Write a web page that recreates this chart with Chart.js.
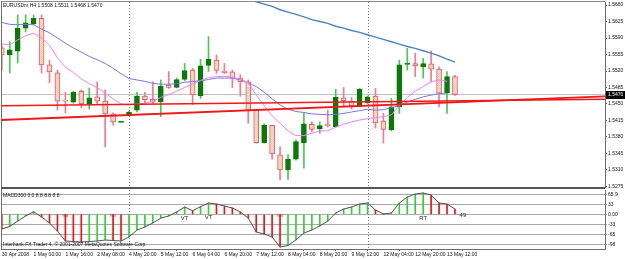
<!DOCTYPE html>
<html>
<head>
<meta charset="utf-8">
<script src="https://cdn.jsdelivr.net/npm/chart.js@4.4.1/dist/chart.umd.min.js"></script>
<style>
  body { margin: 0; background: #fff; }
  #wrap { position: relative; width: 625px; height: 259px; overflow: hidden; background: #fff; }
  #wrap canvas { position: absolute; left: 0; }
  .rule { position: absolute; background: #6e6e6e; }
  .txt { position: absolute; font: 5px "Liberation Sans", Arial, sans-serif; line-height: 6px; color: #111; white-space: nowrap; }
</style>
</head>
<body>
<div id="wrap">
  <canvas id="priceChart" width="625" height="189" style="top:0"></canvas>
  <canvas id="macdChart" width="625" height="70" style="top:189px"></canvas>
  <div class="rule" style="left:1px;top:1px;width:604px;height:1px;background:#8a8a8a"></div>
  <div class="rule" style="left:1px;top:1px;width:1px;height:249px"></div>
  <div class="rule" style="left:1px;top:187px;width:604px;height:2px;background:#555"></div>
  <div class="txt" style="left:3px;top:2px">EURUSDm,H4 1.5508 1.5511 1.5468 1.5470</div>
  <div class="txt" style="left:3px;top:192px">MACD300 0.0 8.8 8.8 8.8</div>
  <div class="txt" style="left:3px;top:241px">Interbank FX Trader 4, © 2001-2007 MetaQuotes Software Corp.</div>
</div>
<script>
(function () {
  'use strict';

  // H4 bars, 30 Apr 04:00 (partly off-chart) to 13 May 12:00
  var opens = [1.5569, 1.5554, 1.5562, 1.5611, 1.5620, 1.5632, 1.5533, 1.5516, 1.5457, 1.5454,
    1.5477, 1.5450, 1.5465, 1.5456, 1.5429, 1.5411, 1.5427, 1.5437, 1.5467, 1.5460,
    1.5455, 1.5490, 1.5485, 1.5502, 1.5522, 1.5467, 1.5532, 1.5543, 1.5520, 1.5518,
    1.5505, 1.5497, 1.5437, 1.5368, 1.5405, 1.5342, 1.5310, 1.5333, 1.5368, 1.5407,
    1.5397, 1.5406, 1.5402, 1.5463, 1.5456, 1.5446, 1.5453, 1.5467, 1.5414, 1.5395,
    1.5444, 1.5534, 1.5536, 1.5529, 1.5535, 1.5524, 1.5474, 1.5508];
  var highs = [1.5575, 1.5582, 1.5639, 1.5639, 1.5639, 1.5639, 1.5543, 1.5522, 1.5475, 1.5477,
    1.5480, 1.5484, 1.5497, 1.5480, 1.5431, 1.5412, 1.5435, 1.5475, 1.5475, 1.5497,
    1.5501, 1.5519, 1.5505, 1.5536, 1.5526, 1.5545, 1.5593, 1.5554, 1.5536, 1.5522,
    1.5512, 1.5501, 1.5437, 1.5408, 1.5405, 1.5359, 1.5342, 1.5374, 1.5432, 1.5412,
    1.5412, 1.5437, 1.5481, 1.5485, 1.5464, 1.5483, 1.5467, 1.5483, 1.5430, 1.5462,
    1.5543, 1.5568, 1.5558, 1.5547, 1.5563, 1.5529, 1.5519, 1.5511];
  var lows = [1.5522, 1.5516, 1.5537, 1.5603, 1.5618, 1.5516, 1.5495, 1.5437, 1.5431, 1.5452,
    1.5442, 1.5439, 1.5450, 1.5359, 1.5405, 1.5411, 1.5425, 1.5433, 1.5452, 1.5451,
    1.5423, 1.5483, 1.5484, 1.5499, 1.5449, 1.5462, 1.5519, 1.5515, 1.5515, 1.5485,
    1.5466, 1.5409, 1.5367, 1.5367, 1.5333, 1.5289, 1.5290, 1.5331, 1.5314, 1.5391,
    1.5388, 1.5401, 1.5401, 1.5444, 1.5439, 1.5444, 1.5450, 1.5399, 1.5367, 1.5393,
    1.5430, 1.5522, 1.5508, 1.5505, 1.5497, 1.5444, 1.5430, 1.5468];
  var closes = [1.5554, 1.5565, 1.5611, 1.5622, 1.5632, 1.5533, 1.5518, 1.5456, 1.5456, 1.5475,
    1.5450, 1.5463, 1.5456, 1.5429, 1.5412, 1.5412, 1.5433, 1.5467, 1.5459, 1.5454,
    1.5488, 1.5485, 1.5502, 1.5521, 1.5469, 1.5531, 1.5545, 1.5521, 1.5516, 1.5505,
    1.5497, 1.5437, 1.5368, 1.5405, 1.5344, 1.5310, 1.5333, 1.5370, 1.5408, 1.5396,
    1.5404, 1.5404, 1.5464, 1.5457, 1.5446, 1.5481, 1.5465, 1.5410, 1.5396, 1.5444,
    1.5533, 1.5535, 1.5531, 1.5536, 1.5524, 1.5473, 1.5508, 1.5470];

  // moving averages
  var maFast = [1.5578, 1.5575, 1.5586, 1.5595, 1.5600, 1.5590, 1.5575, 1.5548, 1.5528, 1.5517,
    1.5503, 1.5493, 1.5485, 1.5473, 1.5461, 1.5450, 1.5448, 1.5450, 1.5451, 1.5456,
    1.5464, 1.5470, 1.5477, 1.5485, 1.5492, 1.5500, 1.5506, 1.5508, 1.5509, 1.5507,
    1.5503, 1.5495, 1.5469, 1.5446, 1.5425, 1.5409, 1.5393, 1.5383, 1.5383, 1.5388,
    1.5393, 1.5393, 1.5401, 1.5407, 1.5412, 1.5416, 1.5419, 1.5421, 1.5423, 1.5427,
    1.5446, 1.5464, 1.5477, 1.5487, 1.5497, 1.5501, 1.5498];
  var maMid = [1.5623, 1.5619, 1.5618, 1.5619, 1.5618, 1.5609, 1.5601, 1.5590, 1.5579, 1.5569,
    1.5560, 1.5551, 1.5544, 1.5536, 1.5526, 1.5514, 1.5504, 1.5501, 1.5498, 1.5494,
    1.5492, 1.5492, 1.5493, 1.5496, 1.5498, 1.5499, 1.5502, 1.5505, 1.5505, 1.5505,
    1.5501, 1.5495, 1.5487, 1.5475, 1.5461, 1.5448, 1.5439, 1.5434, 1.5432, 1.5429,
    1.5428, 1.5427, 1.5428, 1.5430, 1.5433, 1.5436, 1.5439, 1.5437, 1.5438, 1.5442,
    1.5447, 1.5454, 1.5460, 1.5465, 1.5469, 1.5472, 1.5473];
  var maSlowStart = 31;
  var maSlow = [1.5673, 1.5667, 1.5662, 1.5657, 1.5650, 1.5645, 1.5640, 1.5635, 1.5629, 1.5625,
    1.5621, 1.5615, 1.5611, 1.5606, 1.5602, 1.5597, 1.5592, 1.5587, 1.5582, 1.5577,
    1.5572, 1.5568, 1.5563, 1.5558, 1.5552, 1.5545, 1.5539];

  // trend lines [bar, price]
  var trendLower = [[-0.2, 1.5416], [75.9, 1.5466]];
  var trendUpper = [[-0.2, 1.5446], [75.9, 1.5460]];

  var macd = [-48.5, -40.3, -22.1, -5.6, 8.6, -8.9, -28.7, -55.1, -88.1, -89.8,
    -91.4, -89.8, -88.1, -84.8, -86.5, -88.1, -74.9, -51.8, -41.9, -28.7,
    -12.2, -5.6, 7.6, 24.1, 11.9, 25.1, 37.3, 34.0, 27.4, 20.8,
    7.6, -12.2, -58.4, -65.0, -74.9, -108.0, -103.0, -84.8, -61.7, -51.8,
    -38.6, -22.1, 4.3, 17.5, 24.1, 34.0, 37.3, 14.2, 1.0, 4.3,
    37.3, 57.1, 67.0, 70.3, 63.7, 37.3, 34.0, 17.5];

  var noteBars = [8, 14, 35, 23, 26, 53, 58];
  var noteValues = [-6, -6, -6, -14, -9, -14, -2];
  var noteTexts = ['RB', 'RB', 'RB', 'VT', 'VT', 'RT', '49'];

  var priceTicks = [1.5660, 1.5625, 1.5590, 1.5555, 1.5520, 1.5485, 1.5450, 1.5415, 1.5380, 1.5345, 1.5310, 1.5275];
  var macdTicks = [66, 33, 0, -33, -66, -99];
  var macdTickLabels = ['65.9', '33', '0.00', '-33', '-65', '-98'];
  var timeTicks = [0, 4, 8, 12, 16, 20, 24, 28, 32, 36, 40, 44, 48, 52, 56];
  var timeLabels = ['30 Apr 2008', '1 May 00:00', '1 May 16:00', '2 May 08:00', '4 May 20:00',
    '5 May 12:00', '6 May 04:00', '6 May 20:00', '7 May 12:00', '8 May 04:00', '8 May 20:00',
    '9 May 12:00', '12 May 04:00', '12 May 20:00', '13 May 12:00'];
  var weekStarts = [16, 46];

  var xMin = -0.1, xMax = 75.87;
  var priceMin = 1.52739, priceMax = 1.56664;
  var macdMin = -114.5, macdMax = 80.2;

  var fontFamily = '"Liberation Sans", Arial, sans-serif';
  Chart.defaults.font.family = fontFamily;
  Chart.defaults.font.size = 5;
  Chart.defaults.color = '#000';

  var colors = {
    bullBody: '#087a08', bullWick: '#4cc84c',
    bearBorder: '#e8566c', bearWick: '#f27a8e',
    fast: '#f67ef6', mid: '#7676e6', slow: '#4a84c6',
    trend: '#f01818', bid: '#bdbdbd', axis: '#6e6e6e',
    up: '#2fd22f', down: '#f01010', macdLine: '#505050', grid: '#a8a8a8',
    note: '#333', noteRB: '#c81010', sep: '#7a7a7a'
  };

  function bearPattern() {
    var c = document.createElement('canvas');
    c.width = 2; c.height = 2;
    var g = c.getContext('2d');
    g.fillStyle = '#f8e6cc'; g.fillRect(0, 0, 2, 2);
    g.fillStyle = '#efc6a8'; g.fillRect(0, 0, 1, 1); g.fillRect(1, 1, 1, 1);
    return g.createPattern(c, 'repeat');
  }

  function series(arr, start) {
    var out = [];
    arr.forEach(function (v, i) { if (v !== null) out.push({ x: i + (start || 0), y: v }); });
    return out;
  }

  var bull = [], bear = [];
  opens.forEach(function (o, i) { (closes[i] >= o ? bull : bear).push(i); });

  function bodies(idx) { return idx.map(function (i) { return { x: i, y: [opens[i], closes[i]] }; }); }
  function wicks(idx) { return idx.map(function (i) { return { x: i, y: [lows[i], highs[i]] }; }); }
  function seg(pairs) { return pairs.map(function (p) { return { x: p[0], y: p[1] }; }); }

  function lineSet(data, color, width, order) {
    return { type: 'line', data: data, borderColor: color, borderWidth: width, pointRadius: 0, tension: 0, fill: false, order: order };
  }

  function noPadding(scale) {
    scale.paddingTop = 0; scale.paddingBottom = 0; scale.paddingLeft = 0; scale.paddingRight = 0;
  }

  var separators = {
    id: 'separators',
    beforeDatasetsDraw: function (chart) {
      var ctx = chart.ctx, a = chart.chartArea, xs = chart.scales.x;
      ctx.save();
      ctx.strokeStyle = colors.sep;
      ctx.lineWidth = 1;
      ctx.setLineDash([1, 2]);
      weekStarts.forEach(function (b) {
        var x = Math.round(xs.getPixelForValue(b)) + 0.5;
        ctx.beginPath(); ctx.moveTo(x, a.top); ctx.lineTo(x, a.bottom); ctx.stroke();
      });
      ctx.restore();
    }
  };

  var bidLabel = {
    id: 'bidLabel',
    afterDraw: function (chart) {
      var ctx = chart.ctx, a = chart.chartArea;
      var last = closes[closes.length - 1];
      var y = chart.scales.y.getPixelForValue(last);
      ctx.save();
      ctx.fillStyle = '#000';
      ctx.fillRect(a.right + 1, Math.round(y) - 4, chart.width - a.right - 1, 8);
      ctx.fillStyle = '#fff';
      ctx.font = '5px ' + fontFamily;
      ctx.textBaseline = 'middle';
      ctx.fillText(last.toFixed(4), a.right + 3, y);
      ctx.restore();
    }
  };

  var notes = {
    id: 'notes',
    afterDatasetsDraw: function (chart) {
      var ctx = chart.ctx, xs = chart.scales.x, ys = chart.scales.y;
      ctx.save();
      ctx.font = '6px ' + fontFamily;
      ctx.textAlign = 'center';
      ctx.textBaseline = 'middle';
      noteBars.forEach(function (b, i) {
        ctx.fillStyle = noteTexts[i] === 'RB' ? colors.noteRB : colors.note;
        ctx.font = (noteTexts[i] === 'RB' ? '4px ' : '6px ') + fontFamily;
        ctx.fillText(noteTexts[i], xs.getPixelForValue(b), ys.getPixelForValue(noteValues[i]));
      });
      ctx.restore();
    }
  };

  var last = closes[closes.length - 1];

  new Chart(document.getElementById('priceChart'), {
    type: 'bar',
    data: {
      datasets: [
        lineSet([{ x: xMin, y: last }, { x: xMax, y: last }], colors.bid, 1, 9),
        { type: 'bar', data: wicks(bull), backgroundColor: colors.bullWick, barThickness: 1, grouped: false, order: 6 },
        { type: 'bar', data: wicks(bear), backgroundColor: colors.bearWick, barThickness: 1, grouped: false, order: 6 },
        { type: 'bar', data: bodies(bull), backgroundColor: colors.bullBody, borderColor: colors.bullBody, borderWidth: 1, borderSkipped: false, minBarLength: 1, barThickness: 5, grouped: false, order: 5 },
        { type: 'bar', data: bodies(bear), backgroundColor: bearPattern(), borderColor: colors.bearBorder, borderWidth: 1, borderSkipped: false, minBarLength: 1, barThickness: 5, grouped: false, order: 5 },
        lineSet(series(maSlow, maSlowStart), colors.slow, 1.4, 3),
        lineSet(series(maMid), colors.mid, 1, 3),
        lineSet(series(maFast), colors.fast, 1, 2),
        lineSet(seg(trendUpper), colors.trend, 1.5, 1),
        lineSet(seg(trendLower), colors.trend, 1.8, 1)
      ]
    },
    options: {
      responsive: false,
      animation: false,
      events: [],
      layout: { padding: { left: 1, top: 2, right: 0, bottom: 2 } },
      plugins: { legend: { display: false }, tooltip: { enabled: false } },
      scales: {
        x: { type: 'linear', display: false, min: xMin, max: xMax, offset: false },
        y: {
          type: 'linear', position: 'right', min: priceMin, max: priceMax, beginAtZero: false,
          afterBuildTicks: function (s) { s.ticks = priceTicks.map(function (v) { return { value: v }; }); },
          afterFit: function (s) { s.width = 20; noPadding(s); },
          ticks: { autoSkip: false, padding: 1, color: '#111', callback: function (v) { return v.toFixed(4); } },
          grid: { drawOnChartArea: false, drawTicks: true, tickLength: 2, color: colors.axis },
          border: { display: true, color: colors.axis }
        }
      }
    },
    plugins: [separators, bidLabel]
  });

  new Chart(document.getElementById('macdChart'), {
    type: 'bar',
    data: {
      datasets: [
        {
          type: 'bar', data: series(macd), barThickness: 1, grouped: false, order: 2,
          backgroundColor: macd.map(function (v, i) { return i > 0 && v > macd[i - 1] ? colors.up : (i === 0 ? colors.down : colors.down); })
        },
        lineSet(series(macd), colors.macdLine, 1, 1)
      ]
    },
    options: {
      responsive: false,
      animation: false,
      events: [],
      layout: { padding: { left: 1, top: 1, right: 0, bottom: 0 } },
      plugins: { legend: { display: false }, tooltip: { enabled: false } },
      scales: {
        x: {
          type: 'linear', position: 'bottom', min: xMin, max: xMax, offset: false,
          afterBuildTicks: function (s) { s.ticks = timeTicks.map(function (v) { return { value: v }; }); },
          afterFit: function (s) { s.height = 10; noPadding(s); },
          ticks: { autoSkip: false, maxRotation: 0, align: 'start', padding: 1, color: '#111',
            callback: function (v) { return timeLabels[timeTicks.indexOf(v)]; } },
          grid: { drawOnChartArea: false, drawTicks: true, tickLength: 2, color: colors.axis },
          border: { display: true, color: colors.axis }
        },
        y: {
          type: 'linear', position: 'right', min: macdMin, max: macdMax, beginAtZero: false,
          afterBuildTicks: function (s) { s.ticks = macdTicks.map(function (v) { return { value: v }; }); },
          afterFit: function (s) { s.width = 20; noPadding(s); },
          ticks: { autoSkip: false, padding: 1, color: '#111',
            callback: function (v) { return macdTickLabels[macdTicks.indexOf(v)]; } },
          grid: { drawOnChartArea: true, drawTicks: true, tickLength: 2, color: colors.grid },
          border: { display: true, color: colors.axis }
        }
      }
    },
    plugins: [separators, notes]
  });
})();
</script>
</body>
</html>
